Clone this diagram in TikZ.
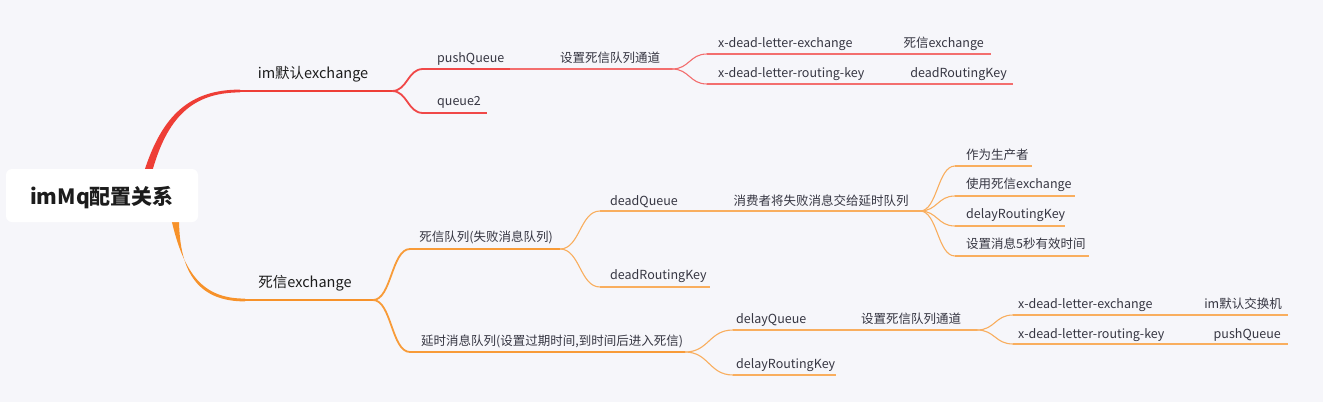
\documentclass[tikz,border=0pt]{standalone}
\usepackage{fontspec}
\setmainfont{Noto Sans CJK SC}
\usetikzlibrary{calc}
\definecolor{bg}{HTML}{F6F6FA}
\definecolor{redA}{HTML}{EE3E36}
\definecolor{redB}{HTML}{F04848}
\definecolor{redC}{HTML}{F36E6E}
\definecolor{orA}{HTML}{F7922A}
\definecolor{orB}{HTML}{F89B38}
\definecolor{orC}{HTML}{F9AE5E}
\definecolor{txt}{HTML}{363642}
\definecolor{txtA}{HTML}{1C1C1C}
\newcommand\mmlink[3]{%
  \path ($(#2)!0.5!(#3)$) coordinate (mmmid);
  \draw[#1] (#2) .. controls (mmmid |- #2) and (mmmid |- #3) .. (#3);}
\begin{document}
\begin{tikzpicture}[x=1pt,y=-1pt,
  lbl/.style={inner sep=0pt,font=\fontsize{12.5}{15}\selectfont,text=txt},
  lblA/.style={inner sep=0pt,font=\fontsize{14.5}{17}\selectfont,text=txtA},
  rootlbl/.style={inner sep=0pt,font=\fontsize{21}{25}\selectfont\bfseries,text=txtA},
  lnRa/.style={draw=redA,line width=2.4pt},
  lnRb/.style={draw=redB,line width=1.8pt},
  lnRc/.style={draw=redC,line width=1.1pt},
  lnOa/.style={draw=orA,line width=2.4pt},
  lnOb/.style={draw=orB,line width=1.8pt},
  lnOc/.style={draw=orC,line width=1.1pt}]
\fill[bg] (0,0) rectangle (1323,402);
\useasboundingbox (0,0) rectangle (1323,402);

% ---------- coordinates of underlines ----------
\coordinate (a1S) at (240,91);  \coordinate (a1E) at (392,91);
\coordinate (pS) at (423,69);   \coordinate (pE) at (510,69);
\coordinate (sE) at (672,69);
\coordinate (qS) at (423,113);  \coordinate (qE) at (487,113);
\coordinate (xeS) at (707,54);  \coordinate (xeE) at (895,54);  \coordinate (xeC) at (991,54);
\coordinate (xrS) at (707,84);  \coordinate (xrE) at (905,84);  \coordinate (xrC) at (1013,84);

\coordinate (b1S) at (245,300); \coordinate (b1E) at (373,300);
\coordinate (dS) at (410,249);  \coordinate (dE) at (560,249);
\coordinate (yS) at (410,352);  \coordinate (yE) at (685,352);
\coordinate (dqS) at (600,211); \coordinate (dqE) at (720,211); \coordinate (cE) at (920,211);
\coordinate (drS) at (600,287); \coordinate (drE) at (710,287);
\coordinate (f1S) at (955,166); \coordinate (f1E) at (1032,166);
\coordinate (f2S) at (955,196); \coordinate (f2E) at (1075,196);
\coordinate (f3S) at (955,226); \coordinate (f3E) at (1065,226);
\coordinate (f4S) at (955,256); \coordinate (f4E) at (1089,256);
\coordinate (lqS) at (733,330); \coordinate (lqE) at (850,330); \coordinate (lsE) at (977,330);
\coordinate (lrS) at (733,375); \coordinate (lrE) at (836,375);
\coordinate (bxS) at (1013,315); \coordinate (bxE) at (1195,315); \coordinate (bxC) at (1288,315);
\coordinate (brS) at (1013,344); \coordinate (brE) at (1200,344); \coordinate (brC) at (1288,344);

% ---------- main tapered branches ----------
\fill[redA] (144,172) .. controls (162,115) and (190,89.6) .. (240,89.6)
   -- (240,92.4) .. controls (192,92.4) and (167,118) .. (152,172) -- cycle;
\fill[orA] (171,218) .. controls (184,276) and (204,298.6) .. (245,298.6)
   -- (245,301.4) .. controls (201,301.4) and (179,276) .. (179,218) -- cycle;

% ---------- underlines ----------
\draw[lnRa] (a1S) -- (a1E);
\draw[lnRb] (pS) -- (pE);
\draw[lnRc] (pE) -- (sE);
\draw[lnRb] (qS) -- (qE);
\draw[lnRc] (xeS) -- (xeE) -- (xeC);
\draw[lnRc] (xrS) -- (xrE) -- (xrC);

\draw[lnOa] (b1S) -- (b1E);
\draw[lnOb] (dS) -- (dE);
\draw[lnOb] (yS) -- (yE);
\draw[lnOc] (dqS) -- (dqE) -- (cE);
\draw[lnOc] (drS) -- (drE);
\draw[lnOc] (f1S) -- (f1E);
\draw[lnOc] (f2S) -- (f2E);
\draw[lnOc] (f3S) -- (f3E);
\draw[lnOc] (f4S) -- (f4E);
\draw[lnOc] (lqS) -- (lqE) -- (lsE);
\draw[lnOc] (lrS) -- (lrE);
\draw[lnOc] (bxS) -- (bxE) -- (bxC);
\draw[lnOc] (brS) -- (brE) -- (brC);

% ---------- connectors ----------
\mmlink{lnRb}{a1E}{pS}
\mmlink{lnRb}{a1E}{qS}
\mmlink{lnRc}{sE}{xeS}
\mmlink{lnRc}{sE}{xrS}
\mmlink{lnOb}{b1E}{dS}
\mmlink{lnOb}{b1E}{yS}
\mmlink{lnOc}{dE}{dqS}
\mmlink{lnOc}{dE}{drS}
\mmlink{lnOc}{cE}{f1S}
\mmlink{lnOc}{cE}{f2S}
\mmlink{lnOc}{cE}{f3S}
\mmlink{lnOc}{cE}{f4S}
\mmlink{lnOc}{yE}{lqS}
\mmlink{lnOc}{yE}{lrS}
\mmlink{lnOc}{lsE}{bxS}
\mmlink{lnOc}{lsE}{brS}

% ---------- root ----------
\fill[white,rounded corners=6pt] (6,169) rectangle (198,222);
\node[rootlbl,anchor=base] (root) at (102,204) {imMq配置关系};

% ---------- labels ----------
\node[lblA,anchor=base] (imx) at (313,78) {im默认exchange};
\node[lblA,anchor=base] (dlx) at (305,287) {死信exchange};

\node[lbl,anchor=base west] (push) at (437,62) {pushQueue};
\node[lbl,anchor=base west] (q2) at (437,105) {queue2};
\node[lbl,anchor=base] (set1) at (610,62) {设置死信队列通道};
\node[lbl,anchor=base west] (xe1) at (718,47) {x-dead-letter-exchange};
\node[lbl,anchor=base east] (xe1v) at (984,47) {死信exchange};
\node[lbl,anchor=base west] (xr1) at (718,77) {x-dead-letter-routing-key};
\node[lbl,anchor=base east] (xr1v) at (1007,77) {deadRoutingKey};

\node[lbl,anchor=base] (dlq) at (486,241) {死信队列(失败消息队列)};
\node[lbl,anchor=base west] (ttl) at (421,345) {延时消息队列(设置过期时间,到时间后进入死信)};
\node[lbl,anchor=base west] (dq) at (610,205) {deadQueue};
\node[lbl,anchor=base] (cons) at (821,205) {消费者将失败消息交给延时队列};
\node[lbl,anchor=base west] (drk) at (610,279) {deadRoutingKey};
\node[lbl,anchor=base west] (f1) at (966,159) {作为生产者};
\node[lbl,anchor=base west] (f2) at (966,188) {使用死信exchange};
\node[lbl,anchor=base west] (f3) at (966,218) {delayRoutingKey};
\node[lbl,anchor=base west] (f4) at (966,248) {设置消息5秒有效时间};
\node[lbl,anchor=base west] (lq) at (736,323) {delayQueue};
\node[lbl,anchor=base] (set2) at (911,323) {设置死信队列通道};
\node[lbl,anchor=base west] (lr) at (736,368) {delayRoutingKey};
\node[lbl,anchor=base west] (xe2) at (1018,308) {x-dead-letter-exchange};
\node[lbl,anchor=base east] (xe2v) at (1282,308) {im默认交换机};
\node[lbl,anchor=base west] (xr2) at (1018,338) {x-dead-letter-routing-key};
\node[lbl,anchor=base east] (xr2v) at (1281,338) {pushQueue};
\end{tikzpicture}
\end{document}
